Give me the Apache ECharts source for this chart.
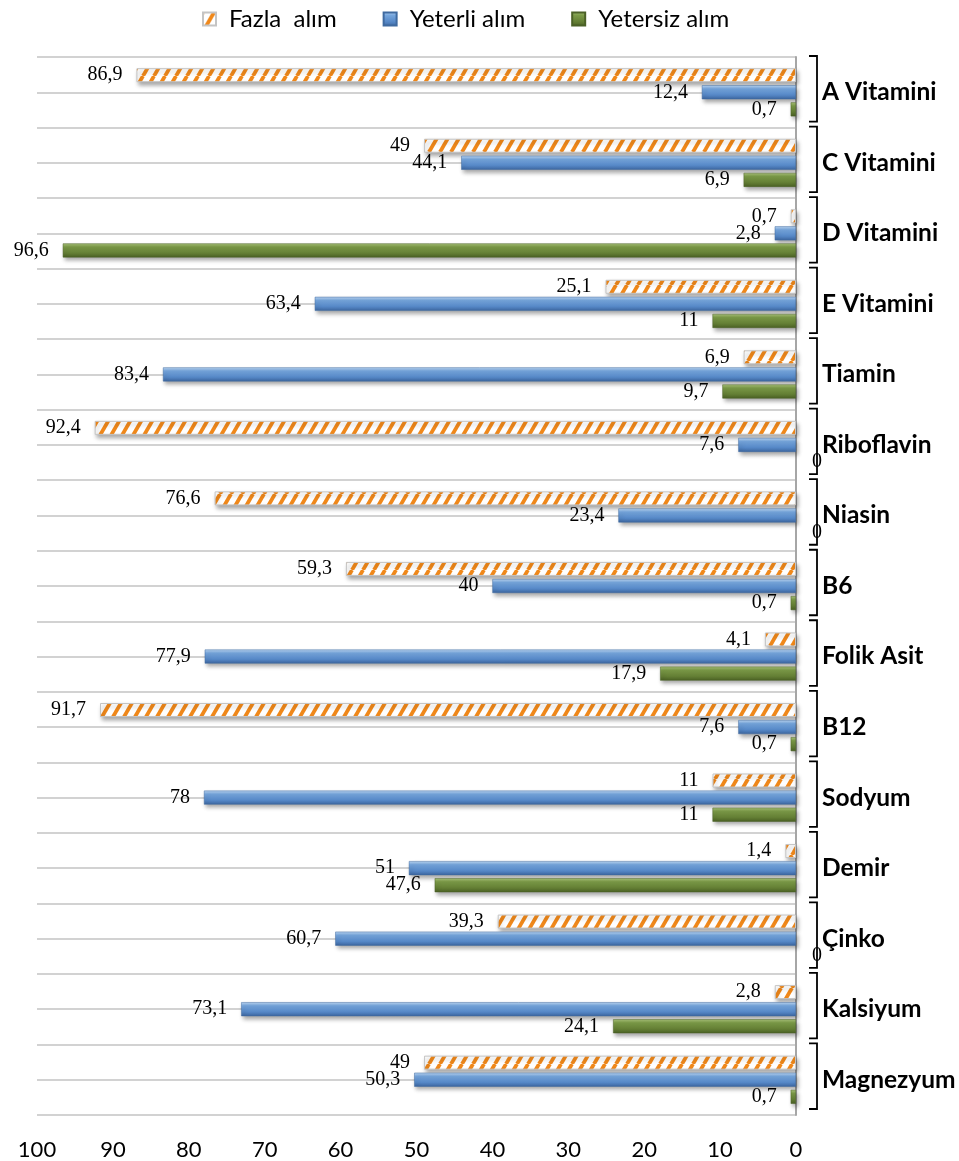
<!DOCTYPE html>
<html>
<head>
<meta charset="utf-8">
<script src="https://cdn.jsdelivr.net/npm/echarts@6/dist/echarts.min.js"></script>
<style>
  html, body { margin: 0; padding: 0; background: #ffffff; }
  #chart { width: 959px; height: 1161px; }
</style>
</head>
<body>
<div id="chart"></div>
<script>
// Nutrient intake shares (%) per category
const categories = ['A Vitamini', 'C Vitamini', 'D Vitamini', 'E Vitamini', 'Tiamin', 'Riboflavin',
  'Niasin', 'B6', 'Folik Asit', 'B12', 'Sodyum', 'Demir', 'Çinko', 'Kalsiyum', 'Magnezyum'];
const seriesNames = ['Fazla  alım', 'Yeterli alım', 'Yetersiz alım'];
const fazla    = [86.9, 49, 0.7, 25.1, 6.9, 92.4, 76.6, 59.3, 4.1, 91.7, 11, 1.4, 39.3, 2.8, 49];
const yeterli  = [12.4, 44.1, 2.8, 63.4, 83.4, 7.6, 23.4, 40, 77.9, 7.6, 78, 51, 60.7, 73.1, 50.3];
const yetersiz = [0.7, 6.9, 96.6, 11, 9.7, 0, 0, 0.7, 17.9, 0.7, 11, 47.6, 0, 24.1, 0.7];
const xTicks = [0, 10, 20, 30, 40, 50, 60, 70, 80, 90, 100];

// Diagonal orange hatch on white
function makeHatch() {
  const w = 11, h = 19;
  const c = document.createElement('canvas');
  c.width = w; c.height = h;
  const g = c.getContext('2d');
  g.fillStyle = '#ffffff';
  g.fillRect(0, 0, w, h);
  g.strokeStyle = '#F0881A';
  g.lineWidth = 3.8;
  for (const k of [-1, 0, 1]) {
    g.beginPath();
    g.moveTo(k * w, h);
    g.lineTo(k * w + w, 0);
    g.stroke();
  }
  return c;
}

function vGrad(stops) {
  return new echarts.graphic.LinearGradient(0, 0, 0, 1,
    stops.map(s => ({ offset: s[0], color: s[1] })));
}

const shadow = { shadowColor: 'rgba(0,0,0,0.35)', shadowBlur: 4, shadowOffsetX: 2, shadowOffsetY: 3 };

const styles = [
  Object.assign({ color: { image: makeHatch(), repeat: 'repeat' }, borderColor: '#C4C4C4', borderWidth: 1 }, shadow),
  Object.assign({ color: vGrad([[0, '#BCD6F2'], [0.25, '#76A6DD'], [0.7, '#5587C6'], [1, '#3C659E']]), borderColor: '#3F6AA0', borderWidth: 0.5 }, shadow),
  Object.assign({ color: vGrad([[0, '#A9C27A'], [0.25, '#7C9B48'], [0.7, '#637E34'], [1, '#4A6024']]), borderColor: '#4B6127', borderWidth: 0.5 }, shadow)
];

const fmt = v => String(v).replace('.', ',');

function barSeries(i, values) {
  return {
    name: seriesNames[i],
    type: 'bar',
    barWidth: 14,
    barGap: '22%',
    itemStyle: styles[i],
    label: {
      show: true,
      position: 'left',
      distance: 14,
      fontFamily: 'Liberation Serif',
      fontSize: 20,
      color: '#000',
      formatter: p => fmt(p.value)
    },
    data: values.map(v => v === 0
      ? {
          value: v,
          itemStyle: { borderWidth: 0, shadowBlur: 0, shadowOffsetX: 0, shadowOffsetY: 0 },
          label: { position: 'right', distance: 16 }
        }
      : v)
  };
}

const chart = echarts.init(document.getElementById('chart'), null, { renderer: 'canvas' });

chart.setOption({
  animation: false,
  backgroundColor: '#ffffff',
  legend: {
    top: 2,
    left: 197,
    icon: 'rect',
    itemWidth: 13,
    itemHeight: 13,
    itemGap: 46,
    textStyle: { fontFamily: 'Lato', fontSize: 24, color: '#000', padding: [0, 0, 0, 8] },
    data: seriesNames
  },
  grid: { left: 37, right: 163, top: 57, bottom: 45, containLabel: false },
  xAxis: {
    type: 'value',
    inverse: true,
    min: 0,
    max: 100,
    interval: 10,
    axisLine: { show: false },
    axisTick: { show: false },
    splitLine: { show: false },
    axisLabel: {
      fontFamily: 'Lato',
      fontSize: 22,
      color: '#000',
      margin: 24,
      formatter: v => xTicks.includes(v) ? String(v) : ''
    }
  },
  yAxis: [
    {
      type: 'category',
      inverse: true,
      position: 'right',
      data: categories,
      axisLine: { show: true, lineStyle: { color: '#A6A6A6', width: 2 } },
      axisTick: { show: false },
      splitLine: { show: false },
      axisLabel: {
        margin: 26,
        fontFamily: 'Lato',
        fontWeight: 'bold',
        fontSize: 24.5,
        color: '#000'
      }
    },
    {
      // half-category guide lines
      type: 'value',
      position: 'left',
      min: 0,
      max: categories.length * 2,
      interval: 1,
      axisLine: { show: false },
      axisTick: { show: false },
      axisLabel: { show: false },
      splitLine: { show: true, lineStyle: { color: '#C3C3C3', width: 1.6 } }
    }
  ],
  series: [
    barSeries(0, fazla),
    barSeries(1, yeterli),
    barSeries(2, yetersiz),
    {
      // bracket beside each category name
      type: 'custom',
      silent: true,
      clip: false,
      data: categories.map((c, i) => [0, i]),
      renderItem: function (params, api) {
        const p = api.coord([0, api.value(1)]);
        const band = api.size([0, 1])[1];
        const x0 = p[0] + 13, x1 = p[0] + 21;
        const y0 = p[1] - band / 2 - 1, y1 = p[1] + band / 2 - 6;
        return {
          type: 'polyline',
          shape: { points: [[x0, y0], [x1, y0], [x1, y1], [x0, y1]] },
          style: { stroke: '#000', lineWidth: 1.8, fill: null }
        };
      }
    }
  ]
});
</script>
</body>
</html>
